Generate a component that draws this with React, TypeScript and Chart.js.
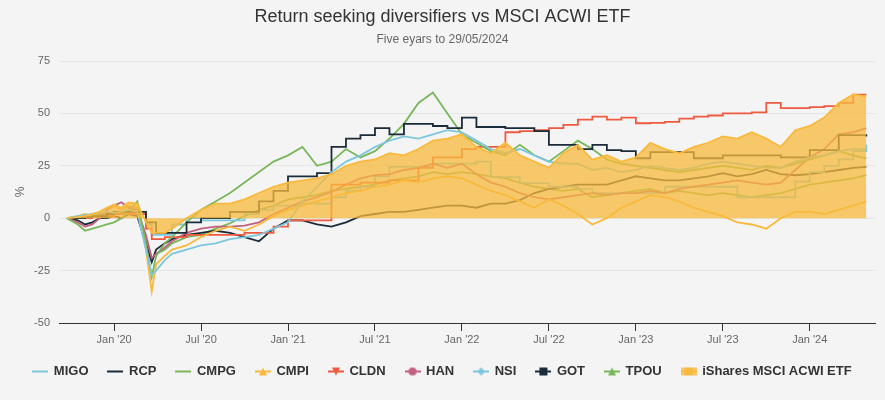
import React, { useEffect, useRef } from "react";
import { Chart, registerables } from "chart.js";
Chart.register(...registerables);

// Time points: months from January 2020
const T = [-3.25, -2.5, -2, -1.5, -1, -0.5, 0, 0.5, 1, 1.6, 2.2, 2.6, 2.9, 3.5,
  4, 5, 6, 7, 8, 9, 10, 11, 12, 13,
  14, 15, 16, 17, 18, 19, 20, 21, 22, 23,
  24, 25, 26, 27, 28, 29, 30, 31, 32, 33,
  34, 35, 36, 37, 38, 39, 40, 41, 42, 43,
  44, 45, 46, 47, 48, 49, 50, 51,
  51.9];

const MIGO = [0, 1, 1.5, 2, 2.5, 3, 2.5, 3, 4, 3, -15, -27, -25, -20,
  -17, -15, -13, -12, -10, -9, -8, -5, -2, 8,
  15, 22, 27, 30, 34, 37, 39, 38, 40, 42,
  41, 37, 33, 31, 33, 30, 27, 26, 26, 23,
  24, 22, 23, 25, 24, 23, 24, 26, 27, 26,
  25, 24, 24, 27, 29, 30, 32, 33,
  33];

const RCP = [0, 0, 0.5, 1, 1, 2, 3, 3, 3, 3, -2, -2, -7, -7,
  -7, -2, 0, 0, 3, 3, 8, 13, 20, 20,
  21.5, 34, 38, 39.6, 43, 40, 45, 45, 44, 43,
  48, 43.5, 43.5, 43, 43, 41.5, 35, 35, 33, 35,
  32.5, 32, 28.6, 31.5, 31.5, 31.5, 28.6, 28.6, 30, 30,
  30, 30, 29, 29, 32.5, 32.5, 39.6, 39.6,
  39];

const CMPG = [0, -3, -6, -5, -4, -3, -2, 0, 3, 8, -12, -28, -18, -12,
  -9, -2, 4, 8, 12, 17, 22, 27, 30, 34,
  25, 27, 33, 29, 32, 38, 45, 55, 60, 50,
  40, 36, 32, 30, 35, 30, 27, 32, 37, 33,
  28, 26, 25, 24, 23, 22, 23, 24, 25, 24,
  23, 25, 24, 26, 28, 30, 32, 30,
  28.6];

const CMPI = [0, 1, 2, 1, 3, 5, 6, 4, 6, 5, -15, -35, -22, -18,
  -15, -13, -9, -6, -4, -6, -3, 1, 4, 6,
  8, 10, 12, 13, 15, 16, 18, 17, 19, 20,
  19, 16, 13, 11, 8, 5, 9, 6, 2, -3,
  0, 5, 8, 11, 10, 8, 5, 3, 1, -2,
  -3, -5, 0, 3, 3, 2, 4, 6,
  8];

const CLDN = [0, 0, 0, 0.5, 1, 1, 2, 2, 2, 2, -5, -10, -10, -9,
  -9, -8, -8, -8, -8, -7, -7, -4, -1, -1,
  -1, 16, 16, 17, 17, 18, 18, 24, 29, 29,
  33, 34, 34, 41, 41.5, 42, 43, 44.5, 47, 48.5,
  47, 48, 45.3, 45.5, 46, 47.5, 48.5, 49, 50, 50,
  50.5, 55, 52.5, 52.5, 53, 53.5, 55, 59,
  59];

const HAN = [0, -2, -4, -3, 0, 4, 6, 7.6, 5, 4, -8, -19, -17, -14,
  -11, -7, -5, -4, -4, -3.5, -2, 2, 5, 8,
  10, 12.5, 16, 19, 20.5, 21, 23, 24, 26, 24,
  26, 21, 17, 15, 12, 10, 9, 10, 11, 12,
  11, 12, 12, 13, 12, 14, 15, 16, 17, 18,
  17, 16, 17, 23, 29, 33, 40, 41,
  43];

const NSI = [0, 0, 0.5, 1, 1, 1.5, 2, 2, 2, 2, -3, -8, -8, -8,
  -3, 0, -1, -1, -1, 2, 4, 6, 6, 7,
  7, 10, 13, 15, 20, 24.5, 24.5, 24.5, 26, 26,
  26, 27, 19.6, 19.6, 16.7, 16.7, 15, 15, 14, 12,
  12, 12, 12, 12, 15, 15, 15, 15, 15, 10,
  10, 10, 10, 17.5, 22, 25, 28, 32,
  35];

const GOT = [0, -1, -3, -2, 0, 0, 1, 0, 2, 1, -12, -21, -15, -12,
  -10, -8, -7, -6, -7, -9, -11, -5, -1, -1,
  -3, -4, -2, 1, 2, 3, 3, 4, 5, 6,
  6, 5, 7, 7, 8.6, 12, 14, 15, 16, 16,
  16, 18, 20, 19, 18, 18, 19, 20, 21.5, 20,
  21, 23, 21, 20.5, 21, 22, 23, 24,
  24.5];

const TPOU = [0, 0, 1, 1, 2, 2, 3, 2, 4, 3, -10, -20, -17, -15,
  -12, -9, -8, -5, -2.4, 1, 4, 6, 9, 10,
  11, 13, 14, 15, 16, 18, 19, 20, 22, 21,
  22, 21, 20, 19, 17, 15, 14, 13, 14, 10,
  11, 12, 13, 14, 12, 13, 12, 11, 12, 11,
  10, 11, 12, 14, 16, 17, 18, 19,
  20.5];

const ACWI = [0, 0.5, 1, 2, 3, 5, 6.5, 5, 7.5, 7, -2, -7, -7, -7,
  -5, 0, 4, 7, 7, 9, 12, 15, 17, 18,
  19, 21, 25, 27, 28, 31, 30, 33, 37, 38,
  40, 34, 31, 36, 30, 27, 24, 31, 35, 28,
  30, 27, 29, 36, 33, 31, 34, 36, 39, 38,
  41, 38, 34, 42, 44, 48, 55, 59,
  58];

const X_TICKS = [0, 6, 12, 18, 24, 30, 36, 42, 48];
const X_TICK_LABELS = ["Jan '20", "Jul '20", "Jan '21", "Jul '21", "Jan '22", "Jul '22", "Jan '23", "Jul '23", "Jan '24"];

const TITLE = "Return seeking diversifiers vs MSCI ACWI ETF";
const SUBTITLE = "Five eyars to 29/05/2024";

const BLUE = "#7cc7dd";
const NAVY = "#1a2b3a";
const GREEN = "#7ab65a";
const YELLOW = "#f8b93c";
const RED = "#ee5a3f";
const PINK = "#c2607f";
const FILL = "rgba(248,185,60,0.75)";

type S = { name: string; values: number[]; color: string; marker: string | null; stepped?: boolean; area?: boolean };
const SERIES: S[] = [
  { name: "MIGO", values: MIGO, color: BLUE, marker: null },
  { name: "RCP", values: RCP, color: NAVY, marker: null, stepped: true },
  { name: "CMPG", values: CMPG, color: GREEN, marker: null },
  { name: "CMPI", values: CMPI, color: YELLOW, marker: "triangle" },
  { name: "CLDN", values: CLDN, color: RED, marker: "triangle-down", stepped: true },
  { name: "HAN", values: HAN, color: PINK, marker: "circle" },
  { name: "NSI", values: NSI, color: BLUE, marker: "diamond", stepped: true },
  { name: "GOT", values: GOT, color: NAVY, marker: "square" },
  { name: "TPOU", values: TPOU, color: GREEN, marker: "triangle" },
  { name: "iShares MSCI ACWI ETF", values: ACWI, color: YELLOW, marker: "square", area: true },
];

function makeIcon(color: string, marker: string | null, area?: boolean) {
  const c = document.createElement("canvas");
  c.width = 16;
  c.height = 12;
  const g = c.getContext("2d")!;
  const cx = 8, cy = 6, r = 4;
  if (area) {
    g.fillStyle = FILL;
    g.fillRect(0, 2, 16, 8);
  }
  g.strokeStyle = color;
  g.lineWidth = 2;
  g.beginPath();
  g.moveTo(0, cy);
  g.lineTo(16, cy);
  g.stroke();
  g.fillStyle = color;
  g.beginPath();
  if (marker === "circle") {
    g.arc(cx, cy, r, 0, Math.PI * 2);
  } else if (marker === "square") {
    g.rect(cx - r, cy - r, 2 * r, 2 * r);
  } else if (marker === "diamond") {
    g.moveTo(cx, cy - r); g.lineTo(cx + r, cy); g.lineTo(cx, cy + r); g.lineTo(cx - r, cy); g.closePath();
  } else if (marker === "triangle") {
    g.moveTo(cx, cy - r); g.lineTo(cx + r, cy + r); g.lineTo(cx - r, cy + r); g.closePath();
  } else if (marker === "triangle-down") {
    g.moveTo(cx - r, cy - r); g.lineTo(cx + r, cy - r); g.lineTo(cx, cy + r); g.closePath();
  }
  if (marker) g.fill();
  return c;
}

export default function App() {
  const ref = useRef<HTMLCanvasElement>(null);
  useEffect(() => {
    document.body.style.margin = "0";
    document.body.style.background = "#f4f4f4";
    Chart.defaults.font.family = '"Liberation Sans", Arial, Helvetica, sans-serif';
    const icons = SERIES.map((s) => makeIcon(s.color, s.marker, s.area));
    const datasets: any[] = SERIES.map((s, i) => ({
      label: s.name,
      data: T.map((t, k) => ({ x: t, y: s.values[k] })),
      borderColor: s.color,
      backgroundColor: s.area ? FILL : s.color,
      borderWidth: 1.8,
      pointRadius: 0,
      pointStyle: icons[i],
      stepped: s.stepped ? true : false,
      fill: s.area ? "origin" : false,
      order: s.area ? -1 : 0,
      tension: 0,
    }));
    const chart = new Chart(ref.current!, {
      type: "line",
      data: { datasets },
      options: {
        animation: false,
        responsive: false,
        events: [],
        layout: { padding: { left: 0, right: 0, top: 0, bottom: 12 } },
        scales: {
          x: {
            type: "linear",
            min: -3.8,
            max: 52.5,
            afterBuildTicks: (scale: any) => {
              scale.ticks = X_TICKS.map((v) => ({ value: v }));
            },
            afterFit: (scale: any) => {
              scale.height = 22;
            },
            ticks: {
              autoSkip: false,
              maxRotation: 0,
              padding: 2,
              color: "#666",
              font: { size: 11 },
              callback: (v: any) => X_TICK_LABELS[X_TICKS.indexOf(Number(v))] ?? "",
            },
            grid: { drawOnChartArea: false, drawTicks: true, tickLength: 8, tickColor: "#333", lineWidth: 1 },
            border: { display: true, color: "#333", width: 1 },
          },
          y: {
            min: -50,
            max: 75,
            afterFit: (scale: any) => {
              scale.width = 59;
            },
            ticks: { stepSize: 25, padding: 9, color: "#666", font: { size: 11 } },
            grid: { color: "#e6e6e6", drawTicks: false, lineWidth: 1 },
            border: { display: false },
            title: { display: true, text: "%", color: "#666", font: { size: 12 }, padding: { top: 13, bottom: 0 } },
          },
          y2: {
            position: "right",
            display: true,
            afterFit: (scale: any) => {
              scale.width = 10;
            },
            ticks: { display: false },
            grid: { display: false },
            border: { display: false },
          },
        },
        plugins: {
          title: {
            display: true,
            text: TITLE,
            color: "#333",
            font: { size: 18, weight: "normal" },
            padding: { top: 6, bottom: 0 },
          },
          subtitle: {
            display: true,
            text: SUBTITLE,
            color: "#666",
            font: { size: 12, weight: "normal" },
            padding: { top: 5, bottom: 14 },
          },
          legend: {
            position: "bottom",
            labels: {
              usePointStyle: true,
              pointStyleWidth: 14,
              padding: 20,
              color: "#333",
              font: { size: 13, weight: "bold" },
              sort: (a: any, b: any) => a.datasetIndex - b.datasetIndex,
              generateLabels: (ch: any) =>
                (Chart.defaults.plugins.legend.labels.generateLabels as any)(ch).map((l: any) => ({
                  ...l,
                  pointStyle: icons[l.datasetIndex],
                })),
            },
          },
          tooltip: { enabled: false },
        },
      } as any,
    });
    return () => chart.destroy();
  }, []);
  return (
    <div style={{ width: 885, height: 400 }}>
      <canvas ref={ref} width={885} height={400} />
    </div>
  );
}
